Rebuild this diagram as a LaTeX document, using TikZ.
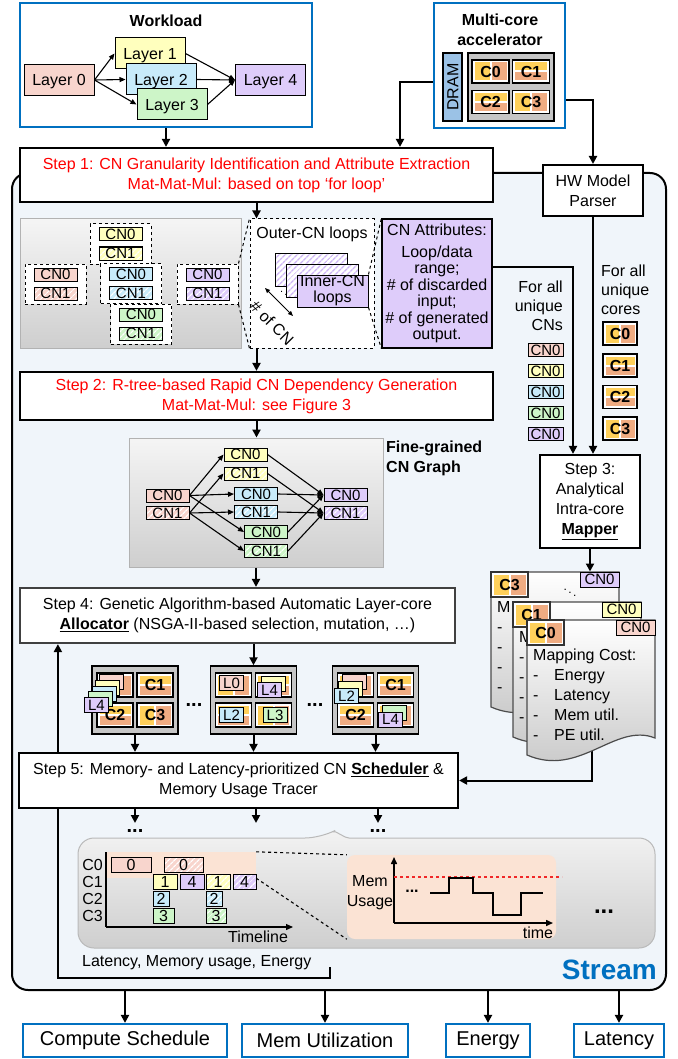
\documentclass[tikz,border=0pt]{standalone}
\usepackage{fontspec}
\setmainfont{Liberation Sans}
\usetikzlibrary{arrows.meta,positioning,calc,patterns.meta}

\definecolor{cnpink}{RGB}{248,213,205}
\definecolor{cnyellow}{RGB}{255,255,190}
\definecolor{cnblue}{RGB}{200,235,250}
\definecolor{cngreen}{RGB}{205,245,200}
\definecolor{cnpurple}{RGB}{222,204,250}
\definecolor{hatchpurple}{RGB}{205,180,245}
\definecolor{coreyel}{RGB}{255,208,90}
\definecolor{coreorg}{RGB}{240,172,130}
\definecolor{dramblue}{RGB}{155,194,230}
\definecolor{accblue}{RGB}{0,112,192}
\definecolor{streambg}{RGB}{240,245,250}
\definecolor{peach}{RGB}{251,227,212}
\definecolor{memred}{RGB}{240,40,40}

\newcommand{\costfull}{Mapping Cost:\\\makebox[21pt][l]{-}Energy\\\makebox[21pt][l]{-}Latency\\\makebox[21pt][l]{-}Mem util.\\\makebox[21pt][l]{-}PE util.}
\newcommand{\costshort}{M\\-\\-\\-\\-}

\begin{document}
\fontsize{16}{20}\selectfont
\begin{tikzpicture}[x=1pt, y=-1pt,
    conn/.style={line width=2, -{Triangle[length=8pt,width=8pt]}},
    thinarr/.style={line width=1.1, -{Triangle[length=6pt,width=5pt]}},
    bluebox/.style={draw=accblue, line width=2.2, fill=white, inner sep=0},
    stepbox/.style={draw, line width=2.2, fill=white, inner sep=0, align=center},
    layer/.style={draw, line width=1, inner sep=0, minimum width=70, minimum height=31, text height=11.5, text depth=0},
    cn/.style={draw, line width=1, inner sep=0, minimum width=43, minimum height=13, text height=10.5, text depth=0, font=\fontsize{15}{15}\selectfont},
    hatch/.style={postaction={pattern={Lines[angle=45,distance=4pt,line width=1.2pt]}, pattern color=white}, postaction={draw}},
    hatchp/.style={postaction={pattern={Lines[angle=45,distance=4pt,line width=1.5pt]}, pattern color=hatchpurple}, postaction={draw}},
    grp/.style={draw, dashed, line width=1, fill=white, minimum width=61, minimum height=40, inner sep=0},
    graybox/.style={draw=gray!60, line width=1, top color=gray!8, bottom color=gray!38, inner sep=0},
    core/.style={draw, line width=1.2, fill=white, inner sep=0, minimum width=37, minimum height=23, font=\bfseries, text height=11.5, text depth=0},
    corev/.style={core, path picture={
        \fill[coreyel] ($(path picture bounding box.north west)+(2.5,2.5)$) rectangle ($(path picture bounding box.south)+(-1,-2.5)$);
        \fill[coreorg] ($(path picture bounding box.north)+(1,2.5)$) rectangle ($(path picture bounding box.south east)+(-2.5,-2.5)$);}},
    coreh/.style={core, path picture={
        \fill[coreyel] ($(path picture bounding box.north west)+(2.5,2.5)$) rectangle ($(path picture bounding box.east)+(-2.5,-1)$);
        \fill[coreorg] ($(path picture bounding box.west)+(2.5,1)$) rectangle ($(path picture bounding box.south east)+(-2.5,-2.5)$);}},
    ltile/.style={draw, line width=1, inner sep=0, minimum width=24, minimum height=15, text height=10.5, text depth=0, font=\fontsize{15}{15}\selectfont},
    gt/.style={draw, line width=0.9, inner sep=0, minimum height=15, text height=11.5, text depth=0},
    dots/.style={font=\bfseries\fontsize{20}{20}\selectfont, inner sep=0}
]
\useasboundingbox (0,0) rectangle (677,1059);

% Stream frame
\node[draw, line width=2, fill=streambg, rounded corners=16, minimum width=654, minimum height=817, inner sep=0] (stream) at (339,581.5) {};
\node[font=\bfseries\fontsize{28}{28}\selectfont, text=accblue, anchor=base east, inner sep=0] (streamlbl) at (657,979) {Stream};

% Workload
\node[bluebox, minimum width=292, minimum height=124] (work) at (166,65) {};
\node[font=\bfseries] (worktitle) at (166,21) {Workload};
\node[layer, fill=cnpink] (l0) at (59,80) {Layer 0};
\node[layer, fill=cnyellow] (l1) at (150,53.5) {Layer 1};
\node[layer, fill=cnblue] (l2) at (161,79.5) {Layer 2};
\node[layer, fill=cngreen] (l3) at (172,104.5) {Layer 3};
\node[layer, fill=cnpurple] (l4) at (270.5,80) {Layer 4};
\foreach \t in {l1,l2,l3} \draw[thinarr] (l0.east) -- (\t.west);
\foreach \t in {l1,l2,l3} \draw[thinarr] (\t.east) -- (l4.west);

% Multi-core accelerator
\node[bluebox, minimum width=131, minimum height=125] (acc) at (499.5,65.5) {};
\node[font=\bfseries, align=center] (acctitle) at (500,30) {Multi-core\\accelerator};
\node[draw, line width=1.5, fill=dramblue, rotate=90, minimum width=68, minimum height=19, inner sep=0, text height=11.5, text depth=0] (dram) at (452.5,87) {DRAM};
\node[draw, line width=1.5, fill=gray!45, minimum width=86, minimum height=68, inner sep=0] (accgrid) at (511,87) {};
\node[corev] (ac0) at (490.5,71.5) {C0};
\node[coreh] (ac1) at (531,71.5) {C1};
\node[coreh] (ac2) at (490.5,102) {C2};
\node[corev] (ac3) at (531,102) {C3};

% Step 1
\node[stepbox, minimum width=473, minimum height=54, text=red] (step1) at (256.5,175) {Step 1: CN Granularity Identification and Attribute Extraction\\Mat-Mat-Mul: based on top ‘for loop’};
\node[draw, line width=2, fill=white, minimum width=100, minimum height=51, align=center, inner sep=0] (hw) at (593,190.5) {HW Model\\Parser};

\draw[conn] (work.south) -- (work.south |- step1.north);
\draw[conn] ($(acc.west)+(0,17)$) -| ($(step1.north)+(143.5,0)$);
\draw[conn] ($(acc.east)+(0,35)$) -| (hw.north);

% CN granularity
\node[graybox, minimum width=221, minimum height=129] (cnarea) at (130.5,283.5) {};
\foreach \g/\x/\y/\c in {gB/120.5/244/cnyellow, gC/131/283.5/cnblue, gD/141/324/cngreen, gA/55.5/284/cnpink, gE/207.5/284/cnpurple}{
  \node[grp] (\g) at (\x,\y) {};
  \node[cn, fill=\c] (\g0) at (\x,\y-9.5) {CN0};
  \node[cn, fill=\c, hatch] (\g1) at (\x,\y+9.5) {CN1};
}

\node[draw, dashed, line width=1, fill=white, minimum width=124, minimum height=129, inner sep=0] (outer) at (312,283.5) {};
\node (outertitle) at (312,234) {Outer-CN loops};
\node[draw, line width=1, fill=white, hatchp, minimum width=72, minimum height=33] (lp1) at (311,269.5) {};
\node[draw, line width=1, fill=white, hatchp, minimum width=72, minimum height=33] (lp2) at (322,280.5) {};
\node[draw, line width=1, fill=cnpurple, minimum width=71, minimum height=32, align=center, inner sep=0, font=\fontsize{16}{16}\selectfont] (lp3) at (332.5,291) {Inner-CN\\loops};
\node[font=\fontsize{11}{11}\selectfont, inner sep=0] (cndots) at (286,292) {$\ddots$};
\coordinate (ncA) at (265,288);
\coordinate (ncB) at (293,316);
\draw[line width=1, {Triangle[length=5pt,width=4pt]}-{Triangle[length=5pt,width=4pt]}] (ncA) -- (ncB);
\node[rotate=-45, inner sep=0] (nclbl) at (272,323) {\# of CN};

\node[draw, line width=1.2, fill=cnpurple, minimum width=110, minimum height=129, align=center, inner sep=0, font=\fontsize{16}{16.5}\selectfont] (attr) at (437,283.5) {CN Attributes:\\[5pt]Loop/data\\range;\\\# of discarded\\input;\\\# of generated\\output.};

% zoom lines
\draw[dashed, line width=1] (gE.north east) -- (outer.north west);
\draw[dashed, line width=1] (gE.south east) -- (outer.south west);
\draw[dashed, line width=1] (lp3.north east) -- (attr.north west);
\draw[dashed, line width=1] (lp3.south east) -- (attr.south west);

% Step 2
\node[stepbox, minimum width=473, minimum height=48, text=red] (step2) at (256.5,396) {Step 2: R-tree-based Rapid CN Dependency Generation\\Mat-Mat-Mul: see Figure 3};
\draw[conn] (step1.south) -- (step1.south |- outer.north);
\draw[conn] (step1.south |- outer.south) -- (step2.north);

% fine-grained CN graph
\node[graybox, minimum width=254, minimum height=129] (gbox) at (256,502.5) {};
\draw[conn] (step2.south) -- (step2.south |- gbox.north);
\node[font=\bfseries, align=left, anchor=west, inner sep=0] (gbtitle) at (386,458.5) {Fine-grained\\CN Graph};
\node[cn, fill=cnpink] (p0) at (167.5,495.5) {CN0};
\node[cn, fill=cnpink, hatch] (p1) at (167.5,513) {CN1};
\node[cn, fill=cnyellow] (y0) at (245.5,454.5) {CN0};
\node[cn, fill=cnyellow, hatch] (y1) at (245.5,473.5) {CN1};
\node[cn, fill=cnblue] (b0) at (256,494) {CN0};
\node[cn, fill=cnblue, hatch] (b1) at (256,512) {CN1};
\node[cn, fill=cngreen] (g0) at (266,532) {CN0};
\node[cn, fill=cngreen, hatch] (g1) at (266,551) {CN1};
\node[cn, fill=cnpurple] (q0) at (345.5,495) {CN0};
\node[cn, fill=cnpurple, hatch] (q1) at (345.5,513) {CN1};
\foreach \s/\t in {p0/y0,p0/b0,p0/g0,p1/y1,p1/b1,p1/g1,y0/q0,b0/q0,g0/q0,y1/q1,b1/q1,g1/q1}
  \draw[thinarr] (\s.east) -- (\t.west);

% unique CNs and cores
\node[align=right, anchor=east, inner sep=0, font=\fontsize{16}{19}\selectfont] (forcn) at (563,306) {For all\\unique\\CNs};
\foreach \c [count=\i] in {cnpink,cnyellow,cnblue,cngreen,cnpurple}
  \node[cn, fill=\c, minimum width=35] (ucn\i) at (545.5,329+21*\i) {CN0};
\node[align=left, anchor=west, inner sep=0, font=\fontsize{16}{19}\selectfont] (forcore) at (601,290) {For all\\unique\\cores};
\node[corev, minimum width=34] (uc0) at (620,333.5) {C0};
\node[coreh, minimum width=34] (uc1) at (620,365.5) {C1};
\node[coreh, minimum width=34] (uc2) at (620,397) {C2};
\node[corev, minimum width=34] (uc3) at (620,428.5) {C3};

% Step 3
\node[stepbox, minimum width=100, minimum height=93] (s3) at (590,501.5) {Step 3:\\Analytical\\Intra-core\\\underline{\textbf{Mapper}}};
\draw[conn] ($(attr.east)+(0,-16.5)$) -| ($(s3.north)+(-17,0)$);
\draw[conn] (hw.south) -- (hw.south |- s3.north);

% Step 4
\node[stepbox, draw=black!75, minimum width=435, minimum height=55] (s4) at (237.5,615.5) {Step 4: Genetic Algorithm-based Automatic Layer-core\\\underline{\textbf{Allocator}} (NSGA-II-based selection, mutation, …)};
\draw[conn] (gbox.south) -- (gbox.south |- s4.north);

% allocations
\foreach \n/\x in {gridA/135, gridB/253.5, gridC/375.5}
  \node[draw, line width=1.5, fill=gray!45, minimum width=86, minimum height=68, inner sep=0] (\n) at (\x,700) {};
\foreach \n/\la/\lb/\lc/\ld in {gridA/{}/C1/C2/C3, gridB/{}/{}/{}/{}, gridC/{}/C1/C2/{}}{
  \node[corev, minimum width=36, minimum height=24] (\n-0) at ($(\n)+(-20,-15)$) {\la};
  \node[coreh, minimum width=36, minimum height=24] (\n-1) at ($(\n)+(20,-15)$) {\lb};
  \node[coreh, minimum width=36, minimum height=24] (\n-2) at ($(\n)+(-20,15)$) {\lc};
  \node[corev, minimum width=36, minimum height=24] (\n-3) at ($(\n)+(20,15)$) {\ld};
}
\foreach \c [count=\i from 0] in {cnpink,cnyellow,cnblue,cngreen}
  \node[ltile, fill=\c] (ast\i) at (111.5-3.75*\i,682+5.75*\i) {};
\node[ltile, fill=cnpurple] (ast4) at (96.5,705) {L4};
\node[ltile, fill=cnpink] (bl0) at (231.5,683) {L0};
\node[ltile, fill=cnyellow] (bl1) at (273.5,683.5) {};
\node[ltile, fill=cnpurple] (bl4) at (269.5,690) {L4};
\node[ltile, fill=cnblue] (bl2) at (231.5,715) {L2};
\node[ltile, fill=cngreen] (bl3) at (275,715) {L3};
\foreach \c [count=\i from 0] in {cnpink,cnyellow}
  \node[ltile, fill=\c] (cst\i) at (354.5-4*\i,682+7*\i) {};
\node[ltile, fill=cnblue] (cst2) at (346.5,696) {L2};
\node[ltile, fill=cngreen] (cl3) at (394,712.5) {};
\node[ltile, fill=cnpurple] (cl4) at (390.5,719.5) {L4};
\node[dots] (dg1) at (194,705) {...};
\node[dots] (dg2) at (315,705) {...};
\draw[conn] (gridB.north |- s4.south) -- (gridB.north);

% feedback loop
\node[anchor=west, inner sep=0] (fbtxt) at (82,963) {Latency, Memory usage, Energy};
\coordinate (fbend) at (330,967);
\draw[conn] (fbend) -- ++(0,11) -| ($(s4.south west)+(39,0)$);

% mapper cards -> step 5
\coordinate (cardbot) at (592,745);

% Step 5
\node[stepbox, minimum width=439, minimum height=55] (s5) at (238.5,780.5) {Step 5: Memory- and Latency-prioritized CN \underline{\textbf{Scheduler}} \&\\Memory Usage Tracer};
\foreach \n in {gridA,gridB,gridC} \draw[conn] (\n.south) -- (\n.south |- s5.north);
\draw[conn] (cardbot) |- (s5.east);

% mapping cost cards
\foreach \n/\dx/\dy/\c/\cl/\tx in {cdA/-36/-48/cnpurple/C3/\costshort, cdB/-14/-18/cnyellow/C1/\costshort, cdC/0/0/cnpink/C0/\costfull}{
  \begin{scope}[shift={(\dx,\dy)}]
    \path[draw=black!70, line width=1.2, top color=white, bottom color=gray!45]
      (527,620) -- (655,620) -- (655,738) .. controls (615,722) and (580,778) .. (527,755) -- cycle;
    \node[corev, minimum height=25, draw=black!80, line width=1.8] (\n-core) at (545.5,632.5) {\cl};
    \node[cn, fill=\c, minimum width=39, minimum height=15] (\n-cn) at (635.5,627.5) {CN0};
    \node[anchor=north west, align=left, inner sep=0] (\n-txt) at (533,649) {\tx};
  \end{scope}
}
\node[font=\fontsize{12}{12}\selectfont] (cddots) at (570,590) {$\ddots$};
\draw[conn] (s3.south) -- (s3.south |- cdA-cn.north);

% scheduler outputs
\foreach \n/\x in {sa/135, sb/256, sc/378}{
  \coordinate (\n) at (\x,823);
  \draw[conn] (s5.south -| \n) -- (\n);
}
\node[dots] (dotsa) at (135,831) {...};
\node[dots] (dotsc) at (378,831) {...};

% timeline panel
\path[draw=gray!55, line width=1, top color=gray!10, bottom color=gray!38]
  (78,890) [rounded corners=16] -- (78,838) -- (321,838) [rounded corners=2] -- (334,831) -- (347,838) [rounded corners=16] -- (655,838) -- (655,948) -- (78,948) -- cycle;
\node[fill=peach, minimum width=150, minimum height=26, inner sep=0] (gpeach) at (181,865) {};
\node[fill=peach, rounded corners=8, minimum width=209, minimum height=84, inner sep=0] (mpeach) at (451.5,897) {};
\draw[dashed, line width=1.1] (gpeach.north east) -- (mpeach.north west);
\draw[dashed, line width=1.1] (gpeach.south east) -- (mpeach.south west);

% gantt
\coordinate (gy0) at (106,852);
\coordinate (gorig) at (106,927);
\coordinate (gx1) at (293,927);
\draw[line width=1.2] (gy0) -- (gorig);
\draw[line width=1.2, -{Triangle[length=7pt,width=6pt]}] (gorig) -- (gx1);
\node[inner sep=0] (tlname) at (258,937) {Timeline};
\foreach \r [count=\i from 0] in {865,882,899,916}
  \node[anchor=east, inner sep=0] (row\i) at (103,\r) {C\i};
\node[gt, fill=cnpink, minimum width=40] (t00) at (131,864.5) {0};
\node[gt, fill=cnpink, hatch, minimum width=39] (t01) at (183.5,864.5) {0};
\node[gt, fill=cnyellow, minimum width=24] (t10) at (165,881.5) {1};
\node[gt, fill=cnpurple, minimum width=24] (t11) at (192,881.5) {4};
\node[gt, fill=cnyellow, hatch, minimum width=24] (t12) at (218,881.5) {1};
\node[gt, fill=cnpurple, hatch, minimum width=23] (t13) at (244.5,881.5) {4};
\node[gt, fill=cnblue, minimum width=16] (t20) at (161,899) {2};
\node[gt, fill=cnblue, hatch, minimum width=16] (t21) at (214,899) {2};
\node[gt, fill=cngreen, minimum width=21] (t30) at (163.5,915.5) {3};
\node[gt, fill=cngreen, hatch, minimum width=20] (t31) at (216,915.5) {3};

% memory usage
\coordinate (morig) at (394,923);
\coordinate (mtop) at (394,857);
\coordinate (mright) at (553,923);
\draw[line width=1.5, -{Triangle[length=7pt,width=6pt]}] (morig) -- (mtop);
\draw[line width=1.5, -{Triangle[length=7pt,width=6pt]}] (morig) -- (mright);
\node[align=center, inner sep=0] (memlbl) at (370,893) {Mem\\Usage};
\node[inner sep=0] (timelbl) at (538,933) {time};
\draw[memred, dashed, line width=1.3] (394,877) -- (562,877);
\draw[line width=2] (430,893) -- (449,893) -- (449,878) -- (473,878) -- (473,893) -- (493,893) -- (493,915) -- (521,915) -- (521,893) -- (543,893);
\node[font=\bfseries, inner sep=0] (mdots) at (412,891) {...};
\node[dots, font=\bfseries\fontsize{24}{24}\selectfont] (tdots) at (604,912) {...};

% outputs
\node[bluebox, minimum width=204, minimum height=33, font=\fontsize{20}{20}\selectfont] (ocs) at (125,1040.5) {Compute Schedule};
\node[bluebox, minimum width=166, minimum height=33, font=\fontsize{20}{20}\selectfont] (omu) at (325,1040.5) {Mem Utilization};
\node[bluebox, minimum width=84, minimum height=33, font=\fontsize{20}{20}\selectfont] (oen) at (488,1040.5) {Energy};
\node[bluebox, minimum width=90, minimum height=33, font=\fontsize{20}{20}\selectfont] (olat) at (619,1040.5) {Latency};
\foreach \o in {ocs,omu,oen,olat} \draw[conn] (stream.south -| \o) -- (\o.north);

\end{tikzpicture}
\end{document}
